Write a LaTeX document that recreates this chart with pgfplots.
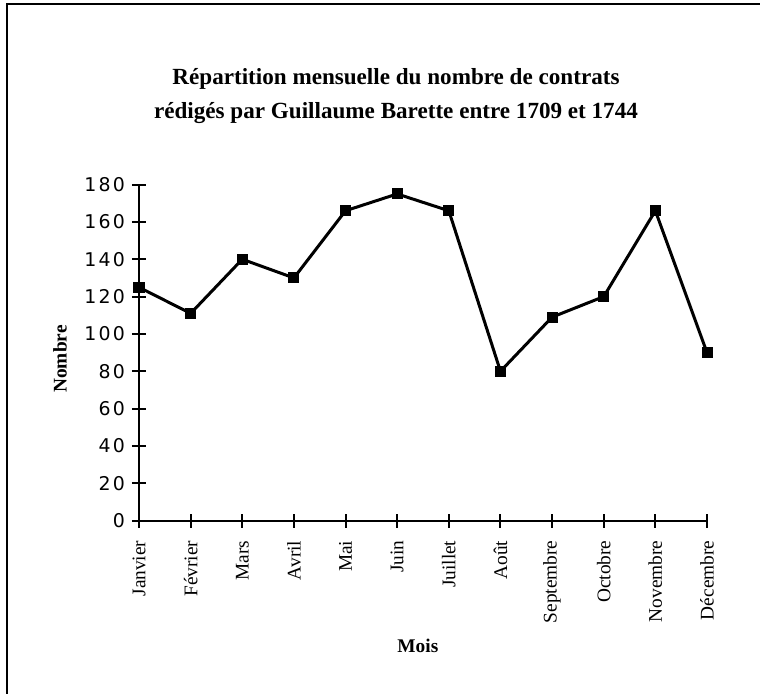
\documentclass[border=0pt]{standalone}
\usepackage{fontspec}
\setmainfont{Liberation Serif}
\newfontfamily\tickfont[LetterSpace=12]{DejaVu Sans}
\usepackage{pgfplots}
\pgfplotsset{compat=1.18}
\begin{document}
\begin{tikzpicture}
\useasboundingbox (0,0) rectangle (380bp,-347bp);
\draw[line width=1bp] (3.25bp,-347bp) -- (3.25bp,-2bp) -- (380bp,-2bp);
\node[font=\bfseries\fontsize{11.6}{14}\selectfont, anchor=base] at (198bp,-42bp) {Répartition mensuelle du nombre de contrats};
\node[font=\bfseries\fontsize{11.6}{14}\selectfont, anchor=base] at (198bp,-59bp) {rédigés par Guillaume Barette entre 1709 et 1744};
\begin{axis}[
  at={(69.5bp,-260.3bp)}, anchor=south west,
  scale only axis, width=284bp, height=168bp,
  axis x line=bottom, axis y line=left,
  axis line style={-, line width=1bp},
  tick align=center, major tick length=7bp,
  tick style={black, line width=1bp},
  xmin=0, xmax=11, ymin=0, ymax=180,
  xtick={0,...,11},
  xticklabels={Janvier,Février,Mars,Avril,Mai,Juin,Juillet,Août,Septembre,Octobre,Novembre,Décembre},
  xticklabel shift=3bp,
  xticklabel style={rotate=90, anchor=east, font=\fontsize{9.7}{12}\selectfont},
  ytick={0,20,...,180},
  yticklabel style={font=\tickfont\fontsize{9.5}{11}\selectfont},
  /pgf/number format/assume math mode=true,
  xlabel={Mois}, ylabel={Nombre},
  xlabel style={at={(axis description cs:0.491,-0.372)}, anchor=center, font=\bfseries\fontsize{9.7}{12}\selectfont},
  ylabel style={at={(axis description cs:-0.139,0.481)}, anchor=center, font=\bfseries\fontsize{9.7}{12}\selectfont},
  clip=false,
]
\addplot[black, line width=1.5bp, mark=square*, mark size=2bp, mark options={solid}] coordinates {
(0,125) (1,111) (2,140) (3,130) (4,166) (5,175) (6,166) (7,80) (8,109) (9,120) (10,166) (11,90)
};
\end{axis}
\end{tikzpicture}
\end{document}
